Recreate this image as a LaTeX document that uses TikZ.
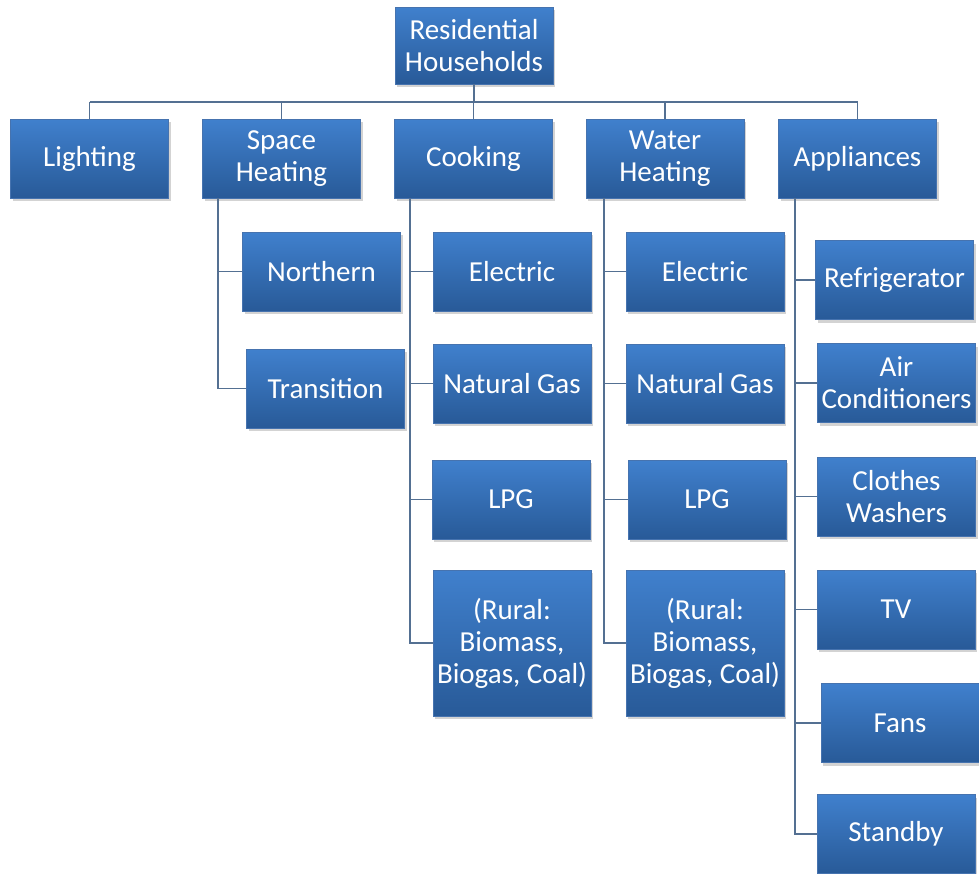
\documentclass[tikz,border=0pt]{standalone}
\usepackage{fontspec}
\setmainfont{Carlito}
\usetikzlibrary{shadows}

\definecolor{boxtop}{RGB}{64,128,205}
\definecolor{boxbot}{RGB}{40,90,152}
\definecolor{boxline}{RGB}{70,115,175}
\definecolor{linecol}{RGB}{84,112,146}

\tikzstyle{box} = [rectangle,minimum width=158,minimum height=79,inner sep=0pt,top color=boxtop,bottom color=boxbot,draw=boxline,line width=0.6pt,text=white,align=center,font=\fontsize{29}{32}\selectfont,drop shadow={shadow xshift=2pt,shadow yshift=-3pt,opacity=0.35}]
\tikzstyle{tallbox} = [box,minimum height=146]
\tikzstyle{conn} = [linecol,line width=1.6pt]

\begin{document}
\begin{tikzpicture}[x=1pt,y=-1pt]

\useasboundingbox (0,0) rectangle (979,873);

% Top
\node [box,minimum height=77] (root) at (474,45.5) {Residential\\Households};

% First level
\node [box] (light) at (89.5,158.5) {Lighting};
\node [box] (space) at (281.5,158.5) {Space\\Heating};
\node [box] (cook) at (473.5,158.5) {Cooking};
\node [box] (water) at (665,158.5) {Water\\Heating};
\node [box] (appl) at (857.5,158.5) {Appliances};

% Space heating
\node [box] (north) at (321.5,271.5) {Northern};
\node [box] (trans) at (325.5,388.5) {Transition};

% Cooking
\node [box] (celec) at (512,271.5) {Electric};
\node [box] (cgas) at (512,383.5) {Natural Gas};
\node [box] (clpg) at (511,499.5) {LPG};
\node [tallbox] (crural) at (512,643) {(Rural:\\Biomass,\\Biogas, Coal)};

% Water heating
\node [box] (welec) at (705,271.5) {Electric};
\node [box] (wgas) at (705,383.5) {Natural Gas};
\node [box] (wlpg) at (707,499.5) {LPG};
\node [tallbox] (wrural) at (705,643) {(Rural:\\Biomass,\\Biogas, Coal)};

% Appliances
\node [box] (fridge) at (894.5,280) {Refrigerator};
\node [box] (air) at (896.5,383) {Air\\Conditioners};
\node [box] (wash) at (896.5,496.5) {Clothes\\Washers};
\node [box] (tv) at (896,609.5) {TV};
\node [box] (fans) at (900,723) {Fans};
\node [box] (stand) at (896,834) {Standby};

% Bus under the top box
\coordinate (bus) at (474,102);
\draw [conn] (root.south) -- (root.south |- bus);
\draw [conn] (light.north |- bus) -- (appl.north |- bus);
\foreach \n in {light,space,cook,water,appl}
  \draw [conn] (\n.north) -- (\n.north |- bus);

% Trunks
\coordinate (spt) at ([xshift=16pt]space.south west);
\coordinate (cot) at ([xshift=16pt]cook.south west);
\coordinate (wat) at ([xshift=18pt]water.south west);
\coordinate (apt) at ([xshift=17pt]appl.south west);

\foreach \n in {north,trans}
  \draw [conn] (spt) |- (\n.west);
\foreach \n in {celec,cgas,clpg,crural}
  \draw [conn] (cot) |- (\n.west);
\foreach \n in {welec,wgas,wlpg,wrural}
  \draw [conn] (wat) |- (\n.west);
\foreach \n in {fridge,air,wash,tv,fans,stand}
  \draw [conn] (apt) |- (\n.west);

\end{tikzpicture}
\end{document}
